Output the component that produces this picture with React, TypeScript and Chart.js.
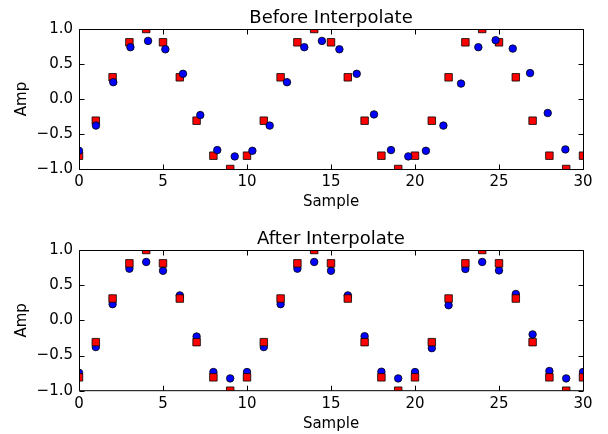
import { useEffect, useRef } from "react";
import { Chart, registerables } from "chart.js";

Chart.register(...registerables);

const sampleMin = 0;
const sampleMax = 30;
const sampleStep = 5;
const ampMin = -1;
const ampMax = 1;
const ampStep = 0.5;

const titles = ["Before Interpolate", "After Interpolate"];
const xLabel = "Sample";
const yLabel = "Amp";

const redSamples = [0, 1, 2, 3, 4, 5, 6, 7, 8, 9, 10, 11, 12, 13, 14, 15, 16, 17, 18, 19, 20, 21, 22, 23, 24, 25, 26, 27, 28, 29, 30];
const redAmp = [-0.81, -0.31, 0.31, 0.81, 1.0, 0.81, 0.31, -0.31, -0.81, -1.0, -0.81, -0.31, 0.31, 0.81, 1.0, 0.81, 0.31, -0.31, -0.81, -1.0, -0.81, -0.31, 0.31, 0.81, 1.0, 0.81, 0.31, -0.31, -0.81, -1.0, -0.81];

const beforeSamples = [0, 1.01, 2.04, 3.06, 4.11, 5.14, 6.19, 7.22, 8.23, 9.27, 10.32, 11.35, 12.38, 13.41, 14.46, 15.5, 16.53, 17.56, 18.57, 19.6, 20.65, 21.69, 22.74, 23.77, 24.8, 25.82, 26.85, 27.9, 28.95];
const beforeAmp = [-0.74, -0.38, 0.24, 0.74, 0.83, 0.71, 0.36, -0.23, -0.73, -0.82, -0.74, -0.38, 0.24, 0.74, 0.83, 0.71, 0.36, -0.22, -0.73, -0.82, -0.74, -0.38, 0.22, 0.74, 0.84, 0.72, 0.37, -0.2, -0.72];

const afterSamples = [0, 1, 2, 3, 4, 5, 6, 7, 8, 9, 10, 11, 12, 13, 14, 15, 16, 17, 18, 19, 20, 21, 22, 23, 24, 25, 26, 27, 28, 29, 30];
const afterAmp = [-0.745, -0.38, 0.23, 0.735, 0.83, 0.705, 0.355, -0.23, -0.735, -0.825, -0.735, -0.38, 0.23, 0.735, 0.83, 0.705, 0.355, -0.225, -0.73, -0.825, -0.735, -0.395, 0.215, 0.73, 0.83, 0.71, 0.375, -0.2, -0.72, -0.825, -0.735];

const FONT = "'DejaVu Sans', sans-serif";

const framePlugin = {
  id: "mplFrame",
  afterDatasetsDraw(chart: any, _args: any, opts: any) {
    const { ctx, chartArea: a, scales } = chart;
    const al = (v: number) => Math.round(v) + 0.5;
    const L = al(a.left), R = al(a.right), T = al(a.top);
    const B = opts.softBottom ? a.bottom : al(a.bottom);
    ctx.save();
    ctx.strokeStyle = "#000";
    ctx.lineWidth = 1;
    ctx.beginPath();
    ctx.moveTo(L, T); ctx.lineTo(R, T); ctx.lineTo(R, B); ctx.lineTo(L, B); ctx.closePath();
    ctx.stroke();
    const tl = 5;
    ctx.beginPath();
    for (const t of scales.x.ticks) {
      const px = al(scales.x.getPixelForValue(t.value));
      ctx.moveTo(px, B); ctx.lineTo(px, B - tl);
      ctx.moveTo(px, T); ctx.lineTo(px, T + tl);
    }
    for (const t of scales.y.ticks) {
      const py = al(scales.y.getPixelForValue(t.value));
      ctx.moveTo(L, py); ctx.lineTo(L + tl, py);
      ctx.moveTo(R, py); ctx.lineTo(R - tl, py);
    }
    ctx.stroke();
    // title
    ctx.fillStyle = "#000";
    ctx.font = `18px ${FONT}`;
    ctx.textAlign = "center";
    ctx.textBaseline = "alphabetic";
    ctx.fillText(opts.title, (a.left + a.right) / 2, a.top - 6);
    ctx.restore();
  },
};

function makeConfig(which: number) {
  const red = {
    label: "input",
    data: redSamples.map((x, i) => ({ x, y: redAmp[i] })),
    pointStyle: "rect",
    pointRadius: 5.3,
    backgroundColor: "#ff0000",
    borderColor: "#000000",
    borderWidth: 0.8,
    showLine: false,
    clip: 0,
  };
  const blue = {
    label: "output",
    data:
      which === 0
        ? beforeSamples.map((x, i) => ({ x, y: beforeAmp[i] }))
        : afterSamples.map((x, i) => ({ x, y: afterAmp[i] })),
    pointStyle: "circle",
    pointRadius: 3.75,
    backgroundColor: "#0000ff",
    borderColor: "#000000",
    borderWidth: 0.8,
    showLine: false,
    clip: 0,
  };
  // Chart.js draws dataset 0 on top
  const datasets = which === 0 ? [blue, red] : [red, blue];
  return {
    type: "scatter",
    data: { datasets },
    options: {
      responsive: false,
      animation: false,
      devicePixelRatio: 1,
      events: [],
      layout: {
        padding: which === 0 ? { top: 29, left: 0, right: 25, bottom: 6 } : { top: 33, left: 0, right: 25, bottom: 1.3 },
      },
      plugins: {
        legend: { display: false },
        tooltip: { enabled: false },
        mplFrame: { title: titles[which], softBottom: which === 1 },
      },
      scales: {
        x: {
          type: "linear",
          min: sampleMin,
          max: sampleMax,
          grid: { display: false, drawTicks: false },
          border: { display: false },
          afterFit: (s: any) => { s.height = 42; },
          ticks: {
            stepSize: sampleStep,
            padding: 4,
            maxRotation: 0,
            autoSkip: false,
            color: "#000",
            font: { family: FONT, size: 15 },
            callback: (v: any) => String(v),
          },
          title: {
            display: true,
            text: xLabel,
            color: "#000",
            font: { family: FONT, size: 15 },
            padding: { top: 0, bottom: 0 },
          },
        },
        y: {
          type: "linear",
          min: ampMin,
          max: ampMax,
          grid: { display: false, drawTicks: false },
          border: { display: false },
          afterFit: (s: any) => { s.width = 79; },
          ticks: {
            stepSize: ampStep,
            padding: 6,
            autoSkip: false,
            color: "#000",
            font: { family: FONT, size: 15 },
            callback: (v: any) => {
              const n = Math.round(Number(v) * 10) / 10;
              return (n < 0 ? "\u2212" : "") + Math.abs(n).toFixed(1);
            },
          },
          title: {
            display: true,
            text: yLabel,
            color: "#000",
            font: { family: FONT, size: 15 },
            padding: { top: 13, bottom: 0 },
          },
        },
      },
    },
    plugins: [framePlugin],
  };
}

export default function App() {
  const topRef = useRef<HTMLCanvasElement>(null);
  const botRef = useRef<HTMLCanvasElement>(null);
  useEffect(() => {
    const c1 = new Chart(topRef.current as HTMLCanvasElement, makeConfig(0) as any);
    const c2 = new Chart(botRef.current as HTMLCanvasElement, makeConfig(1) as any);
    return () => {
      c1.destroy();
      c2.destroy();
    };
  }, []);
  return (
    <div style={{ position: "absolute", left: 0, top: 0, width: 608, height: 434, background: "#fff" }}>
      <canvas ref={topRef} width={608} height={217} style={{ position: "absolute", left: 0, top: 0, display: "block" }} />
      <canvas ref={botRef} width={608} height={217} style={{ position: "absolute", left: 0, top: 217, display: "block" }} />
    </div>
  );
}
